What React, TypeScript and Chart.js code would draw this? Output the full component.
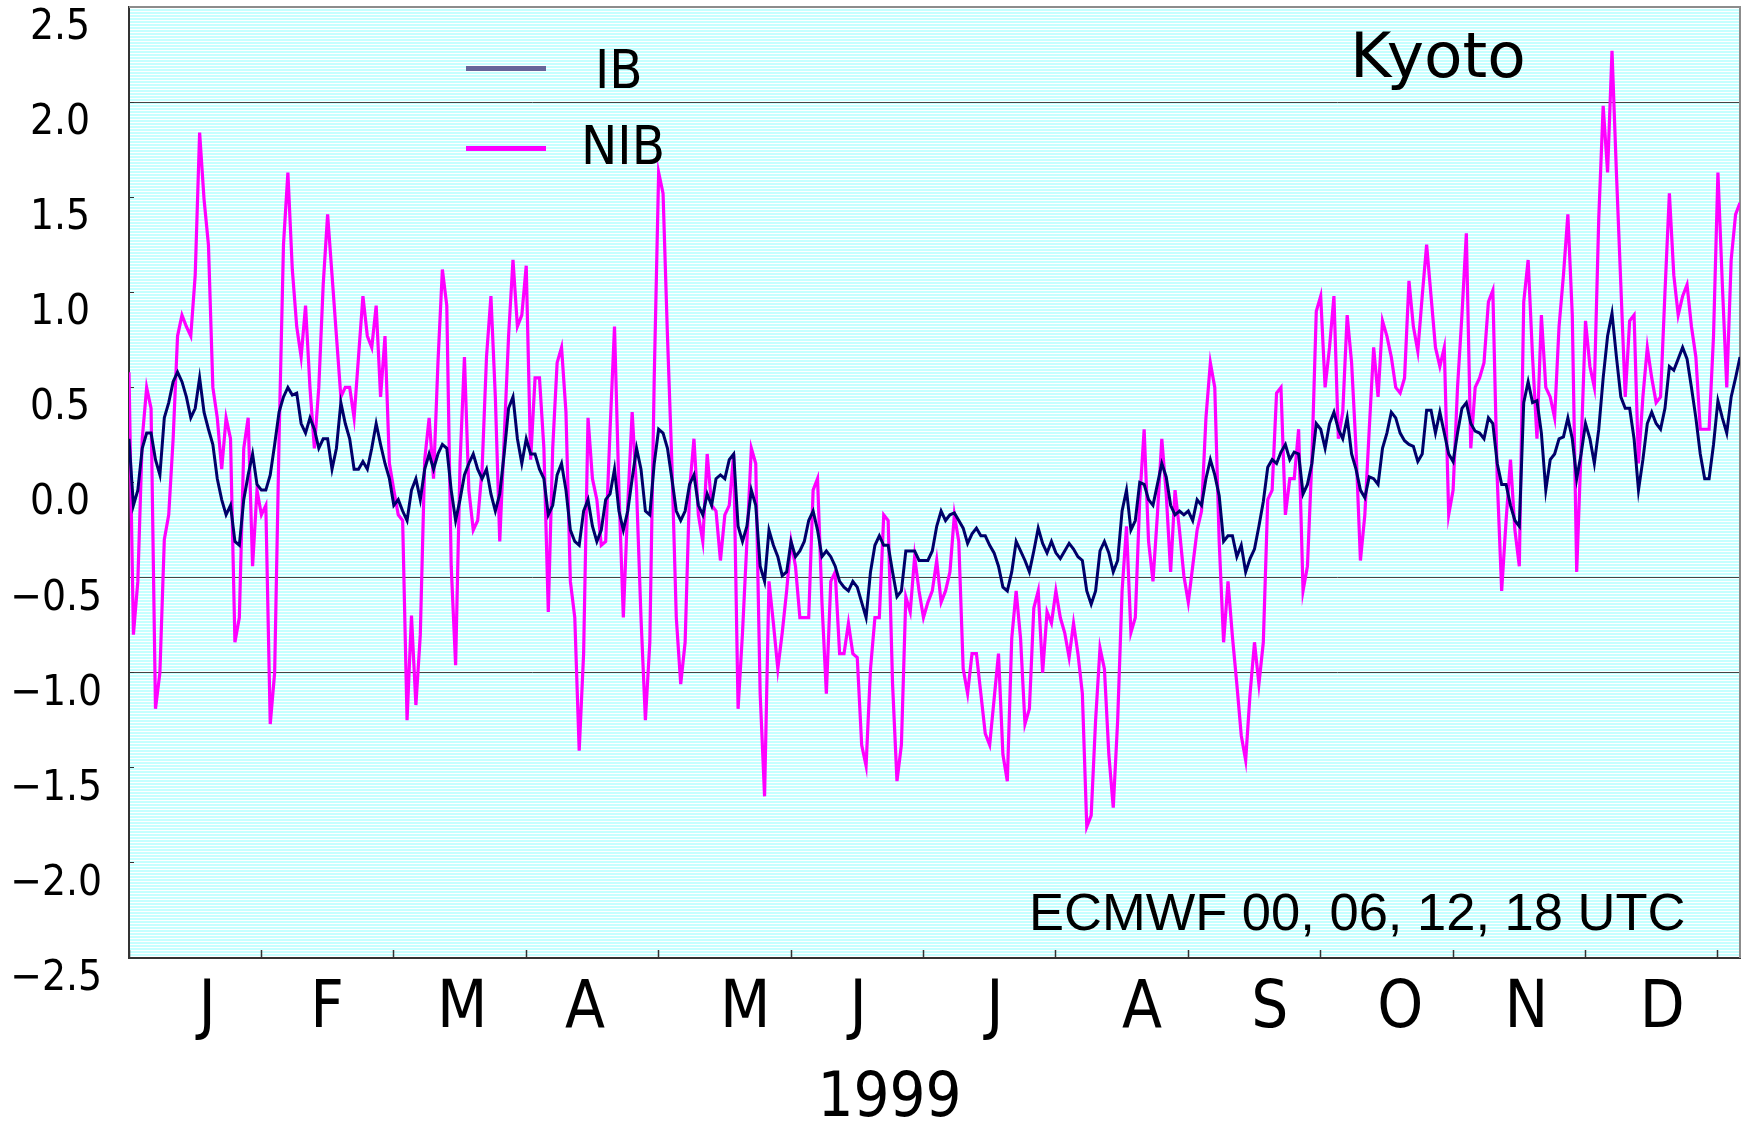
import React, { useEffect, useRef } from 'react';
import { Chart, registerables } from 'chart.js';

Chart.register(...registerables);

// ---- data (daily samples, day 0 = 1 Jan 1999) ----
const IB: number[] = [
  0.23, -0.12, -0.04, 0.18, 0.26, 0.26, 0.12, 0.04, 0.34, 0.42,
  0.53, 0.58, 0.53, 0.45, 0.34, 0.39, 0.55, 0.37, 0.28, 0.2,
  0.02, -0.09, -0.17, -0.12, -0.31, -0.33, -0.09, 0.04, 0.15, -0.01,
  -0.04, -0.04, 0.04, 0.2, 0.37, 0.45, 0.5, 0.46, 0.47, 0.31,
  0.26, 0.34, 0.28, 0.18, 0.23, 0.23, 0.07, 0.18, 0.42, 0.31,
  0.23, 0.07, 0.07, 0.11, 0.07, 0.18, 0.31, 0.2, 0.1, 0.02,
  -0.12, -0.09,
  -0.15, -0.2, -0.04, 0.02, -0.09, 0.07, 0.15, 0.07, 0.15, 0.2,
  0.18, -0.04, -0.2, -0.09, 0.04, 0.1, 0.15, 0.07, 0.02, 0.07,
  -0.06, -0.15, -0.06, 0.15, 0.39, 0.45, 0.23, 0.1, 0.23, 0.15,
  0.15, 0.07, 0.02, -0.17, -0.12, 0.04, 0.1, -0.04, -0.25, -0.31,
  -0.33, -0.15, -0.09, -0.23, -0.31, -0.25, -0.09, -0.06, 0.07, -0.15,
  -0.25, -0.15, 0.02, 0.18, 0.07, -0.15, -0.17, 0.1, 0.28, 0.26,
  0.18,
  0.02, -0.15, -0.2, -0.15, -0.01, 0.04, -0.12, -0.17, -0.06, -0.12,
  0.02, 0.04, 0.02, 0.12, 0.15, -0.23, -0.31, -0.23, -0.04, -0.12,
  -0.44, -0.52, -0.25, -0.33, -0.39, -0.49, -0.47, -0.31, -0.39, -0.36,
  -0.31, -0.2, -0.15, -0.25, -0.39, -0.36, -0.39, -0.44, -0.52, -0.55,
  -0.57, -0.52, -0.55, -0.63, -0.71, -0.47, -0.33, -0.28, -0.33, -0.33,
  -0.47, -0.6, -0.57, -0.36, -0.36, -0.36, -0.41, -0.41, -0.41, -0.36,
  -0.23,
  -0.15, -0.2, -0.17, -0.16, -0.2, -0.24, -0.32, -0.27, -0.24, -0.28,
  -0.28, -0.33, -0.37, -0.44, -0.55, -0.57, -0.47, -0.31, -0.36, -0.41,
  -0.47, -0.36, -0.24, -0.32, -0.37, -0.31, -0.37, -0.4, -0.36, -0.32,
  -0.35, -0.39, -0.41, -0.57, -0.64, -0.57, -0.36, -0.31, -0.37, -0.47,
  -0.41, -0.15, -0.04, -0.25, -0.2, 0.0, -0.01, -0.09, -0.12, -0.01,
  0.1, 0.03, -0.12, -0.17, -0.15, -0.17, -0.15, -0.2, -0.09, -0.12,
  0.02,
  0.12, 0.04, -0.07, -0.31, -0.28, -0.28, -0.39, -0.33, -0.47, -0.4,
  -0.35, -0.23, -0.1, 0.08, 0.12, 0.1, 0.16, 0.2, 0.12, 0.16,
  0.15, -0.06, -0.01, 0.1, 0.31, 0.28, 0.18, 0.31, 0.37, 0.28,
  0.23, 0.34, 0.15, 0.07, -0.04, -0.08, 0.03, 0.02, -0.01, 0.18,
  0.26, 0.37, 0.34, 0.26, 0.22, 0.2, 0.19, 0.11, 0.15, 0.38,
  0.38, 0.26, 0.37, 0.26, 0.15, 0.11, 0.26, 0.39, 0.42, 0.31,
  0.27,
  0.26, 0.23, 0.34, 0.31, 0.1, -0.01, -0.01, -0.12, -0.2, -0.23,
  0.42, 0.53, 0.42, 0.43, 0.26, -0.04, 0.12, 0.15, 0.23, 0.24,
  0.34, 0.23, 0.02, 0.15, 0.31, 0.23, 0.1, 0.28, 0.55, 0.77,
  0.89, 0.66, 0.45, 0.39, 0.39, 0.23, -0.04, 0.12, 0.31, 0.37,
  0.31, 0.28, 0.39, 0.61, 0.59, 0.65, 0.71, 0.65, 0.5, 0.34,
  0.15, 0.02, 0.02, 0.2, 0.43, 0.34, 0.26, 0.45, 0.55, 0.66,
];

const NIB: number[] = [
  0.58, -0.8, -0.52, 0.23, 0.5, 0.39, -1.19, -1.0, -0.3, -0.17,
  0.23, 0.77, 0.88, 0.82, 0.77, 1.09, 1.84, 1.49, 1.25, 0.5,
  0.34, 0.07, 0.34, 0.23, -0.84, -0.71, 0.18, 0.34, -0.44, -0.04,
  -0.17, -0.12, -1.27, -1.0, 0.23, 1.25, 1.63, 1.12, 0.82, 0.66,
  0.93, 0.5, 0.18, 0.5, 1.04, 1.41, 1.09, 0.77, 0.45, 0.5,
  0.5, 0.34, 0.66, 0.98, 0.77, 0.71, 0.93, 0.45, 0.77, 0.1,
  -0.04, -0.17,
  -0.2, -1.25, -0.7, -1.17, -0.8, 0.12, 0.34, 0.02, 0.63, 1.12,
  0.93, -0.44, -0.96, 0.1, 0.66, -0.04, -0.25, -0.2, 0.07, 0.66,
  0.98, 0.45, -0.31, 0.23, 0.77, 1.17, 0.82, 0.88, 1.14, 0.12,
  0.55, 0.55, 0.18, -0.68, 0.18, 0.63, 0.71, 0.37, -0.52, -0.71,
  -1.41, -0.9, 0.34, 0.02, -0.09, -0.33, -0.31, 0.28, 0.82, -0.04,
  -0.71, -0.12, 0.37, -0.04, -0.71, -1.25, -0.84, 0.55, 1.63, 1.52,
  0.77,
  0.1, -0.71, -1.06, -0.84, -0.04, 0.23, -0.17, -0.31, 0.15, -0.12,
  -0.15, -0.41, -0.17, -0.12, 0.15, -1.19, -0.79, -0.31, 0.18, 0.1,
  -1.11, -1.65, -0.52, -0.74, -0.98, -0.79, -0.57, -0.31, -0.44, -0.71,
  -0.71, -0.71, -0.04, 0.02, -0.63, -1.11, -0.52, -0.47, -0.9, -0.9,
  -0.74, -0.9, -0.92, -1.38, -1.49, -0.98, -0.71, -0.71, -0.17, -0.2,
  -1.06, -1.57, -1.38, -0.6, -0.68, -0.39, -0.57, -0.71, -0.63, -0.57,
  -0.41,
  -0.63, -0.57, -0.47, -0.17, -0.31, -0.98, -1.11, -0.9, -0.9, -1.11,
  -1.32, -1.38, -1.14, -0.9, -1.43, -1.57, -0.82, -0.57, -0.82, -1.27,
  -1.19, -0.66, -0.57, -1.0, -0.68, -0.74, -0.57, -0.71, -0.79, -0.92,
  -0.74, -0.9, -1.11, -1.81, -1.75, -1.25, -0.87, -0.98, -1.43, -1.71,
  -1.25, -0.57, -0.23, -0.79, -0.71, -0.09, 0.28, -0.31, -0.52, -0.17,
  0.23, -0.06, -0.47, -0.04, -0.25, -0.49, -0.63, -0.44, -0.25, -0.15,
  0.34,
  0.63, 0.5, -0.31, -0.84, -0.52, -0.81, -1.06, -1.33, -1.46, -1.11,
  -0.84, -1.06, -0.84, -0.09, -0.04, 0.47, 0.5, -0.17, 0.02, 0.02,
  0.28, -0.57, -0.44, 0.12, 0.9, 0.98, 0.5, 0.71, 0.98, 0.23,
  0.37, 0.88, 0.63, 0.18, -0.41, -0.17, 0.28, 0.71, 0.45, 0.85,
  0.77, 0.66, 0.5, 0.47, 0.55, 1.06, 0.82, 0.69, 0.98, 1.25,
  0.98, 0.71, 0.61, 0.71, -0.17, -0.04, 0.5, 0.88, 1.31, 0.18,
  0.5,
  0.55, 0.63, 0.95, 1.01, 0.02, -0.57, -0.2, 0.12, -0.25, -0.44,
  0.95, 1.17, 0.66, 0.23, 0.88, 0.5, 0.45, 0.34, 0.82, 1.09,
  1.41, 0.88, -0.47, 0.18, 0.85, 0.61, 0.5, 1.39, 1.98, 1.63,
  2.27, 1.63, 1.04, 0.45, 0.85, 0.88, 0.1, 0.45, 0.71, 0.55,
  0.42, 0.45, 1.0, 1.52, 1.09, 0.88, 0.98, 1.04, 0.82, 0.66,
  0.28, 0.28, 0.28, 0.77, 1.63, 1.04, 0.5, 1.17, 1.41, 1.47,
];

const SERIES_NAMES = ['IB', 'NIB'];
const MONTH_LABELS = ['J', 'F', 'M', 'A', 'M', 'J', 'J', 'A', 'S', 'O', 'N', 'D'];
const MONTH_LABEL_DAYS = [17.7, 44.9, 75.5, 103.3, 139.6, 165.2, 196.2, 229.5, 258.5, 288.0, 316.6, 347.4];
const GRID_VALUES = [2.0, -0.5, -1.0];
const YEAR_TITLE = '1999';
const STATION = 'Kyoto';
const SOURCE_NOTE = 'ECMWF 00, 06, 12, 18 UTC';

const NARROW = "'Liberation Sans Narrow', 'Arial Narrow', 'DejaVu Sans Condensed', sans-serif";

const IB_COLOR = '#00006A';
const NIB_COLOR = '#FF00FF';
const IB_LEGEND_COLOR = '#66669A';

const zeroPad = (s: any) => {
  s.paddingTop = 0;
  s.paddingBottom = 0;
  s.paddingLeft = 0;
  s.paddingRight = 0;
};

const stripesPlugin = {
  id: 'stripes',
  beforeDraw(chart: any) {
    const { ctx, chartArea: a } = chart;
    ctx.save();
    ctx.fillStyle = '#C6FFFF';
    ctx.fillRect(a.left, a.top, a.right - a.left, a.bottom - a.top);
    ctx.fillStyle = '#FFFFFF';
    for (let y = a.top + 1; y < a.bottom; y += 3) {
      ctx.fillRect(a.left, y, a.right - a.left, 1);
    }
    ctx.restore();
  },
  beforeDatasetsDraw(chart: any) {
    const { ctx, chartArea: a } = chart;
    ctx.save();
    ctx.strokeStyle = '#8c8c8c';
    ctx.lineWidth = 2;
    ctx.beginPath();
    ctx.moveTo(a.left, a.top);
    ctx.lineTo(a.right, a.top);
    ctx.lineTo(a.right, a.bottom);
    ctx.stroke();
    ctx.restore();
  },
};

export default function App() {
  const canvasRef = useRef<HTMLCanvasElement | null>(null);

  useEffect(() => {
    const canvas = canvasRef.current;
    if (!canvas) return;
    const chart = new Chart(canvas, {
      type: 'line',
      data: {
        datasets: [
          {
            label: SERIES_NAMES[0],
            data: IB.map((v, i) => ({ x: i, y: v })),
            borderColor: IB_COLOR,
            borderWidth: 3,
            pointRadius: 0,
            tension: 0,
            fill: false,
            order: 0,
          },
          {
            label: SERIES_NAMES[1],
            data: NIB.map((v, i) => ({ x: i, y: v })),
            borderColor: NIB_COLOR,
            borderWidth: 3.2,
            pointRadius: 0,
            tension: 0,
            fill: false,
            order: 1,
          },
        ],
      },
      options: {
        responsive: false,
        animation: false,
        devicePixelRatio: 1,
        layout: { padding: { top: 7, right: 13, left: 0, bottom: 0 } },
        plugins: {
          legend: { display: false },
          tooltip: { enabled: false },
          title: { display: false },
        },
        scales: {
          x: {
            type: 'linear',
            min: 0,
            max: 365,
            position: 'bottom',
            weight: 0,
            afterFit: (s: any) => { s.height = 0; zeroPad(s); },
            ticks: { display: false, stepSize: 30, includeBounds: false },
            grid: { drawOnChartArea: false, drawTicks: true, tickLength: -8, tickColor: '#333', tickWidth: 1.5 },
            border: { display: true, color: '#333', width: 2 },
          },
          xm: {
            type: 'linear',
            min: 0,
            max: 365,
            position: 'bottom',
            weight: 1,
            afterFit: (s: any) => { s.height = 170; zeroPad(s); },
            afterBuildTicks: (s: any) => { s.ticks = MONTH_LABEL_DAYS.map((v) => ({ value: v })); },
            ticks: {
              autoSkip: false,
              maxRotation: 0,
              padding: 13,
              color: '#000',
              font: { family: NARROW, size: 65 },
              callback: (_v: any, i: number) => MONTH_LABELS[i],
            },
            grid: { display: false, drawTicks: false },
            border: { display: false },
            title: {
              display: true,
              text: YEAR_TITLE + '     ',
              color: '#000',
              font: { family: NARROW, size: 63, lineHeight: 1 },
              padding: { top: 0, bottom: -3 },
            },
          },
          y: {
            type: 'linear',
            min: -2.5,
            max: 2.5,
            afterFit: (s: any) => { s.width = 129; zeroPad(s); },
            ticks: {
              stepSize: 0.5,
              padding: 32,
              labelOffset: 21,
              color: '#000',
              font: { family: NARROW, size: 42 },
              callback: (v: any) => (v < 0 ? '\u2212' + Math.abs(v).toFixed(1) : Number(v).toFixed(1) + ' '),
            },
            grid: {
              color: (c: any) => (c.tick && GRID_VALUES.includes(c.tick.value) ? '#444' : 'rgba(0,0,0,0)'),
              tickColor: '#333',
              tickLength: -5,
              lineWidth: 1,
            },
            border: { color: '#333', width: 2 },
          },
        },
      },
      plugins: [stripesPlugin],
    });
    return () => chart.destroy();
  }, []);

  const textBase: React.CSSProperties = { position: 'absolute', margin: 0, color: '#000', whiteSpace: 'nowrap' };

  return (
    <div style={{ position: 'absolute', left: 0, top: 0, width: 1753, height: 1128, background: '#fff', overflow: 'hidden' }}>
      <canvas ref={canvasRef} width={1753} height={1128} style={{ position: 'absolute', left: 0, top: 0 }} />
      <div style={{ position: 'absolute', left: 466, top: 66, width: 80, height: 5, background: IB_LEGEND_COLOR }} />
      <div style={{ position: 'absolute', left: 466, top: 146, width: 80, height: 5, background: NIB_COLOR }} />
      <div style={{ ...textBase, left: 595, top: 43, fontFamily: NARROW, fontSize: 54, lineHeight: '54px' }}>{SERIES_NAMES[0]}</div>
      <div style={{ ...textBase, left: 581, top: 119, fontFamily: NARROW, fontSize: 54, lineHeight: '54px' }}>{SERIES_NAMES[1]}</div>
      <div style={{ ...textBase, left: 1350, top: 24, fontFamily: "'DejaVu Sans', sans-serif", fontSize: 63, lineHeight: '63px' }}>{STATION}</div>
      <div style={{ ...textBase, left: 1029, top: 885, fontFamily: "'Liberation Sans', Arial, sans-serif", fontSize: 52.5, lineHeight: '53px' }}>{SOURCE_NOTE}</div>
    </div>
  );
}
